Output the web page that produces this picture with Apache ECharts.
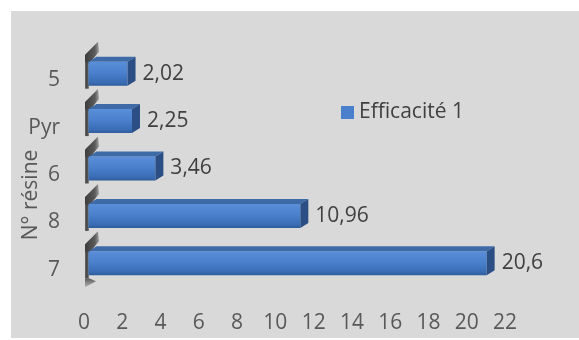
<!DOCTYPE html>
<html><head><meta charset="utf-8">
<script src="https://cdn.jsdelivr.net/npm/echarts@6/dist/echarts.min.js"></script>
<style>html,body{margin:0;padding:0;background:#fff}#c{width:579px;height:340px}</style>
</head><body><div id="c"></div>
<script>
const categories = ['7', '8', '6', 'Pyr', '5'];
const values = [20.6, 10.96, 3.46, 2.25, 2.02];
const seriesName = 'Efficacité 1';
const xTicks = {min: 0, max: 22, interval: 2};
const axisTitle = 'N° résine';

const FONT = '"Open Sans", sans-serif';
const DX = 8, DY = -5;

const chart = echarts.init(document.getElementById('c'));

function fmt(v) { return String(v).replace('.', ','); }

const barData = values.map((v, i) => [v, i]);
const wallData = categories.map((c, i) => [0, i]);

chart.setOption({
  animation: false,
  textStyle: {fontFamily: FONT},
  graphic: [
    {type: 'rect', z: -10, shape: {x: 11, y: 11, width: 568, height: 327}, style: {fill: '#d9d9d9'}},
    {type: 'text', x: 31, y: 195, rotation: Math.PI / 2,
     style: {text: axisTitle, font: '21px ' + FONT, fill: '#595959', align: 'center', verticalAlign: 'middle'}}
  ],
  legend: {
    left: 336, top: 97, itemWidth: 13, itemHeight: 13, icon: 'rect', itemGap: 5,
    textStyle: {fontSize: 21, color: '#404040', fontFamily: FONT},
    data: [{name: seriesName, itemStyle: {color: '#4a7fcc'}}]
  },
  grid: {left: 84, right: 74, top: 56.5, bottom: 46.5},
  xAxis: {
    type: 'value', min: xTicks.min, max: xTicks.max, interval: xTicks.interval,
    axisLine: {show: false}, axisTick: {show: false}, splitLine: {show: false},
    axisLabel: {fontSize: 21, color: '#595959', margin: 19, fontFamily: FONT}
  },
  yAxis: {
    type: 'category', data: categories,
    axisLine: {show: false}, axisTick: {show: false},
    axisLabel: {fontSize: 21, color: '#595959', margin: 24, fontFamily: FONT}
  },
  series: [
    {
      type: 'custom', name: 'wall', silent: true, z: 1,
      data: wallData,
      encode: {x: 0, y: 1},
      renderItem: function (params, api) {
        const c = api.value(1);
        const p = api.coord([0, c]);
        const x0 = p[0];
        const yc = p[1] - 6.5;
        const dark = new echarts.graphic.LinearGradient(0, 0, 1, 0, [
          {offset: 0, color: '#6a6a6a'}, {offset: 0.5, color: '#3e3e3e'}, {offset: 1, color: '#8c8c8c'}
        ]);
        const children = [
          {type: 'rect', shape: {x: x0 + 1, y: yc - 15, width: 4, height: 30},
           style: {fill: dark}},
          {type: 'polygon', shape: {points: [[x0 + 1, yc - 12], [x0 + 1, yc - 19], [x0 + 14, yc - 32], [x0 + 15, yc - 22], [x0 + 5, yc - 10]]},
           style: {fill: new echarts.graphic.LinearGradient(0, 0, 1, 0, [
             {offset: 0, color: '#3c3c3c'}, {offset: 0.7, color: '#5a5a5a'}, {offset: 1, color: '#a0a0a0'}
           ])}}
        ];
        if (c === 0) {
          children.push({type: 'polygon', shape: {points: [[x0 + 1, yc + 15], [x0 + 5, yc + 15], [x0 + 12, yc + 18], [x0 + 1, yc + 24]]},
            style: {fill: new echarts.graphic.LinearGradient(0, 0, 0, 1, [
              {offset: 0, color: '#5a5a5a'}, {offset: 1, color: '#b5b5b5'}
            ])}});
        }
        return {type: 'group', children: children};
      }
    },
    {
      type: 'custom', name: seriesName, z: 2,
      data: barData,
      encode: {x: 0, y: 1},
      renderItem: function (params, api) {
        const v = api.value(0), c = api.value(1);
        const p0 = api.coord([0, c]);
        const p1 = api.coord([v, c]);
        const h = 24;
        const x0 = p0[0] + 4.5, x1 = x0 + (p1[0] - p0[0]) * 1.01;
        const yc = p0[1] - 6.5;
        const yTop = yc - h / 2, yBot = yc + h / 2;
        return {
          type: 'group',
          children: [
            {type: 'rect', shape: {x: x0, y: yTop, width: x1 - x0, height: h},
             style: {fill: new echarts.graphic.LinearGradient(0, 0, 0, 1, [
               {offset: 0, color: '#5a8ed8'}, {offset: 0.45, color: '#4a80cd'}, {offset: 0.85, color: '#3a6db5'}, {offset: 1, color: '#2f5c9c'}
             ])}},
            {type: 'polygon', shape: {points: [[x0, yTop], [x0 + DX, yTop + DY], [x1 + DX, yTop + DY], [x1, yTop]]},
             style: {fill: '#3e6aa8'}},
            {type: 'polygon', shape: {points: [[x1, yTop], [x1 + DX, yTop + DY], [x1 + DX, yBot + DY], [x1, yBot]]},
             style: {fill: '#2b4f85'}},
            {type: 'text', x: x1 + DX + 7, y: yc,
             style: {text: fmt(v), font: '21px ' + FONT, fill: '#404040', align: 'left', verticalAlign: 'middle'}}
          ]
        };
      }
    }
  ]
});
</script></body></html>
